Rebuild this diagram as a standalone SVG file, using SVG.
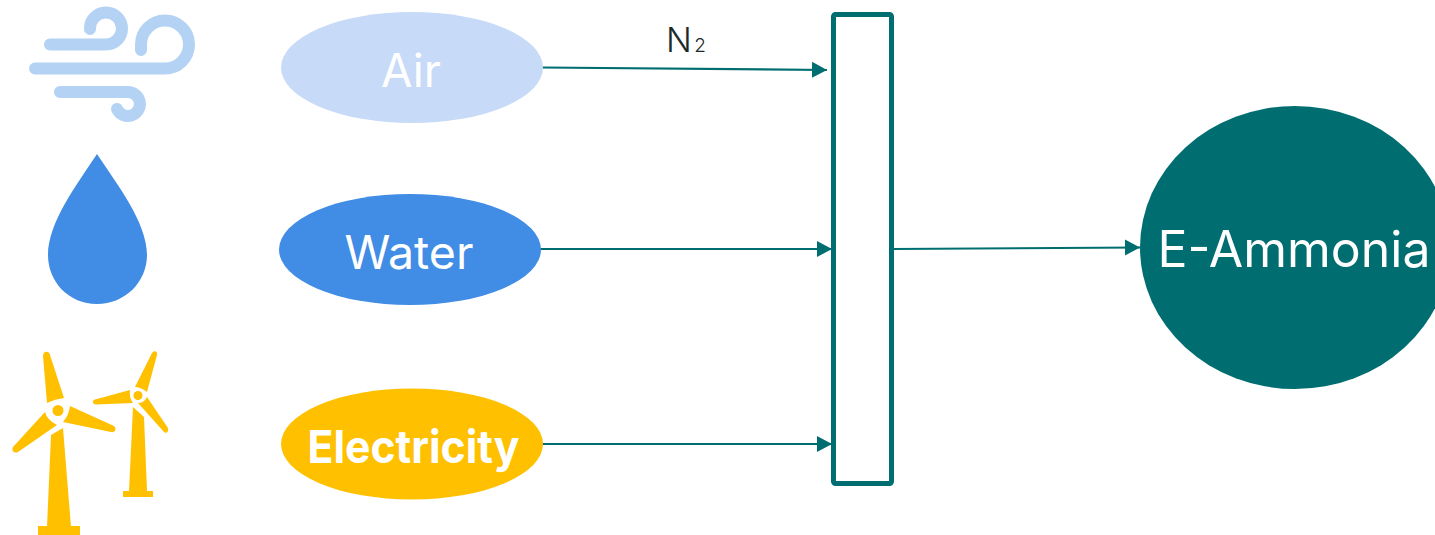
<svg xmlns="http://www.w3.org/2000/svg" width="1435" height="535" viewBox="0 0 1435 535">
<defs>
<marker id="arrow" markerUnits="userSpaceOnUse" markerWidth="16" markerHeight="17" refX="15" refY="8.500" orient="auto"><path d="M0 0.500L15 8.500L0 16.500Z" fill="#006e71"/></marker>
</defs>
<style>
text{font-family:Inter,"Noto Sans","Liberation Sans",sans-serif;fill:#fff;text-anchor:middle}
.c{stroke:#006e71;stroke-width:2.2;fill:none;marker-end:url(#arrow)}
.wind{fill:none;stroke:#b3d2f4;stroke-width:12;stroke-linecap:round}
.t{fill:#ffc000}
</style>
<rect width="1435" height="535" fill="#fff"/>
<g id="icon-wind">
<path class="wind" d="M50 44.500H106A16 16 0 1 0 90 29"/>
<path class="wind" d="M35 68.500H165A24 24 0 1 0 141 44.500V50"/>
<path class="wind" d="M60 92H127A12 12 0 1 1 117 109"/>
</g>
<g id="icon-drop"><path d="M97 154C116 183 147 222 147 255C147 282 125 304 97 304C69 304 48 282 48 255C48 222 78 183 97 154Z" fill="#418ce4"/></g>
<g id="icon-turbines">
<path class="t" d="M43 356C43 351 49 350 50 355L64 398Q55 399 47 403Z"/>
<path class="t" d="M70 406L114 426C117 429 115 433 111 432L63 422Q69 415 70 406Z"/>
<path class="t" d="M45 412Q47 420 57 425L18 452C14 454 11 450 13 447Z"/>
<circle class="t" cx="58" cy="410.500" r="5.500"/>
<path class="t" d="M51 435L63 428L71 527H47Z"/>
<rect class="t" x="38" y="526" width="42" height="9"/>
<path class="t" d="M152 353C154 350 158 351 157 355L147 392Q140 387 135 387Z"/>
<path class="t" d="M130 390Q129 398 133 403L96 404.500C92 404 92 400 95 399.500Z"/>
<path class="t" d="M147 397L168 428C169 432 166 434 164 432L138 403Q144 403 147 397Z"/>
<circle class="t" cx="138" cy="395.500" r="4.500"/>
<path class="t" d="M133 407L144 417L147 491H129Z"/>
<rect class="t" x="123" y="491" width="30" height="6"/>
</g>
<g id="connectors">
<path class="c" d="M542 67.500L827 70"/>
<path class="c" d="M539 249H832"/>
<path class="c" d="M542 444H832"/>
<path class="c" d="M892 249L1140 247.500"/>
</g>
<g id="air"><ellipse cx="412" cy="67.500" rx="131" ry="55.500" fill="#c7daf7"/><text x="411" y="87" font-size="46" font-weight="400" textLength="60" lengthAdjust="spacingAndGlyphs">Air</text></g>
<g id="water"><ellipse cx="410" cy="249.500" rx="131" ry="55.500" fill="#418ce4"/><text x="409" y="269" font-size="46" font-weight="400" textLength="129" lengthAdjust="spacingAndGlyphs">Water</text></g>
<g id="electricity"><ellipse cx="412" cy="444" rx="131" ry="55.500" fill="#ffc000"/><text x="413.500" y="463" font-size="45" font-weight="700" textLength="212" lengthAdjust="spacingAndGlyphs">Electricity</text></g>
<g id="n2-label"><text x="679" y="52" font-size="34" font-weight="300" style="fill:#1a2a2a">N</text><text x="700" y="52" font-size="19" font-weight="300" style="fill:#1a2a2a">2</text></g>
<g id="reactor"><rect x="833.500" y="14.500" width="58" height="469" rx="2" fill="#fff" stroke="#006e71" stroke-width="5"/></g>
<g id="e-ammonia"><ellipse cx="1295" cy="247.500" rx="155" ry="141.500" fill="#006e71"/><text x="1294" y="267" font-size="50" font-weight="400" textLength="273" lengthAdjust="spacingAndGlyphs">E-Ammonia</text></g>
</svg>
